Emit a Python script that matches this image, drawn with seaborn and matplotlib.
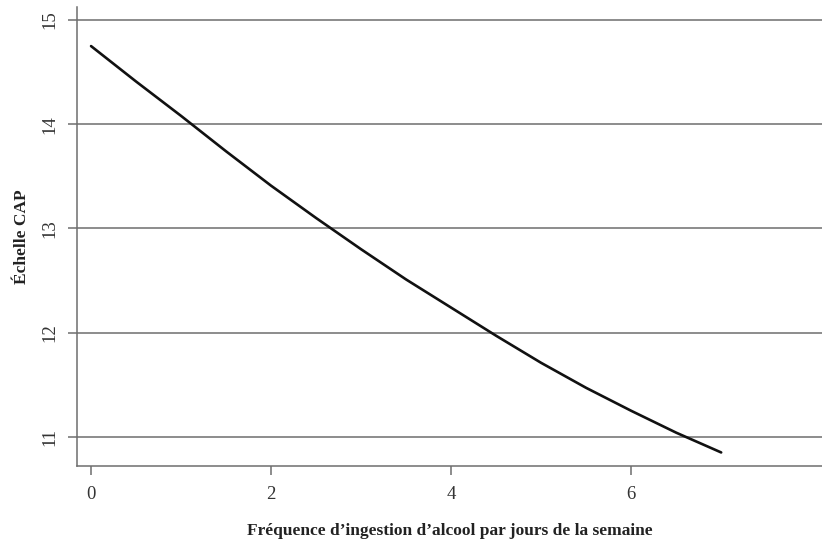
import matplotlib
matplotlib.use("Agg")
import matplotlib.pyplot as plt
import seaborn as sns
import pandas as pd

# Data
freq = [0, 0.5, 1, 1.5, 2, 2.5, 3, 3.5, 4, 4.5, 5, 5.5, 6, 6.5, 7]
cap = [14.75, 14.41, 14.08, 13.74, 13.41, 13.10, 12.80, 12.51, 12.24, 11.97,
       11.71, 11.47, 11.25, 11.04, 10.85]
x_ticks = [0, 2, 4, 6]
y_ticks = [11, 12, 13, 14, 15]
x_label = "Fréquence d\u2019ingestion d\u2019alcool par jours de la semaine"
y_label = "Échelle CAP"

sns.set_style("white")
plt.rcParams['font.family'] = ['Liberation Serif', 'DejaVu Serif']

df = pd.DataFrame({"x": freq, "y": cap})

fig = plt.figure(figsize=(8.22, 5.43), dpi=100)
ax = fig.add_axes([77/822, 1 - 466/543, 1 - 77/822, (466 - 7)/543])

grid_col = "#6e6e6e"
for v in y_ticks:
    ax.axhline(v, color=grid_col, lw=1.1, zorder=1)

sns.lineplot(data=df, x="x", y="y", ax=ax, color="#111111", lw=1.9, zorder=3)

ax.set_xlim(-0.156, 8.12)
ax.set_ylim(10.72, 15.125)
ax.set_xticks(x_ticks)
ax.set_yticks(y_ticks)
ax.set_xticklabels([str(t) for t in x_ticks])
ax.set_yticklabels([str(t) for t in y_ticks], rotation=90, va="center")

for s in ["top", "right"]:
    ax.spines[s].set_visible(False)
for s in ["left", "bottom"]:
    ax.spines[s].set_color(grid_col)
    ax.spines[s].set_linewidth(1.1)

ax.tick_params(axis="y", length=6.5, width=1.1, color=grid_col, pad=7,
               labelsize=13.5, labelcolor="#333333", left=True)
ax.tick_params(axis="x", length=6.5, width=1.1, color=grid_col, pad=8,
               labelsize=13.5, labelcolor="#333333", bottom=True)

ax.set_xlabel(x_label, fontsize=12.5, fontweight="bold", color="#222222", labelpad=14)
ax.set_ylabel(y_label, fontsize=12.5, fontweight="bold", color="#222222", labelpad=8)

fig.savefig("out.png", dpi=100)
